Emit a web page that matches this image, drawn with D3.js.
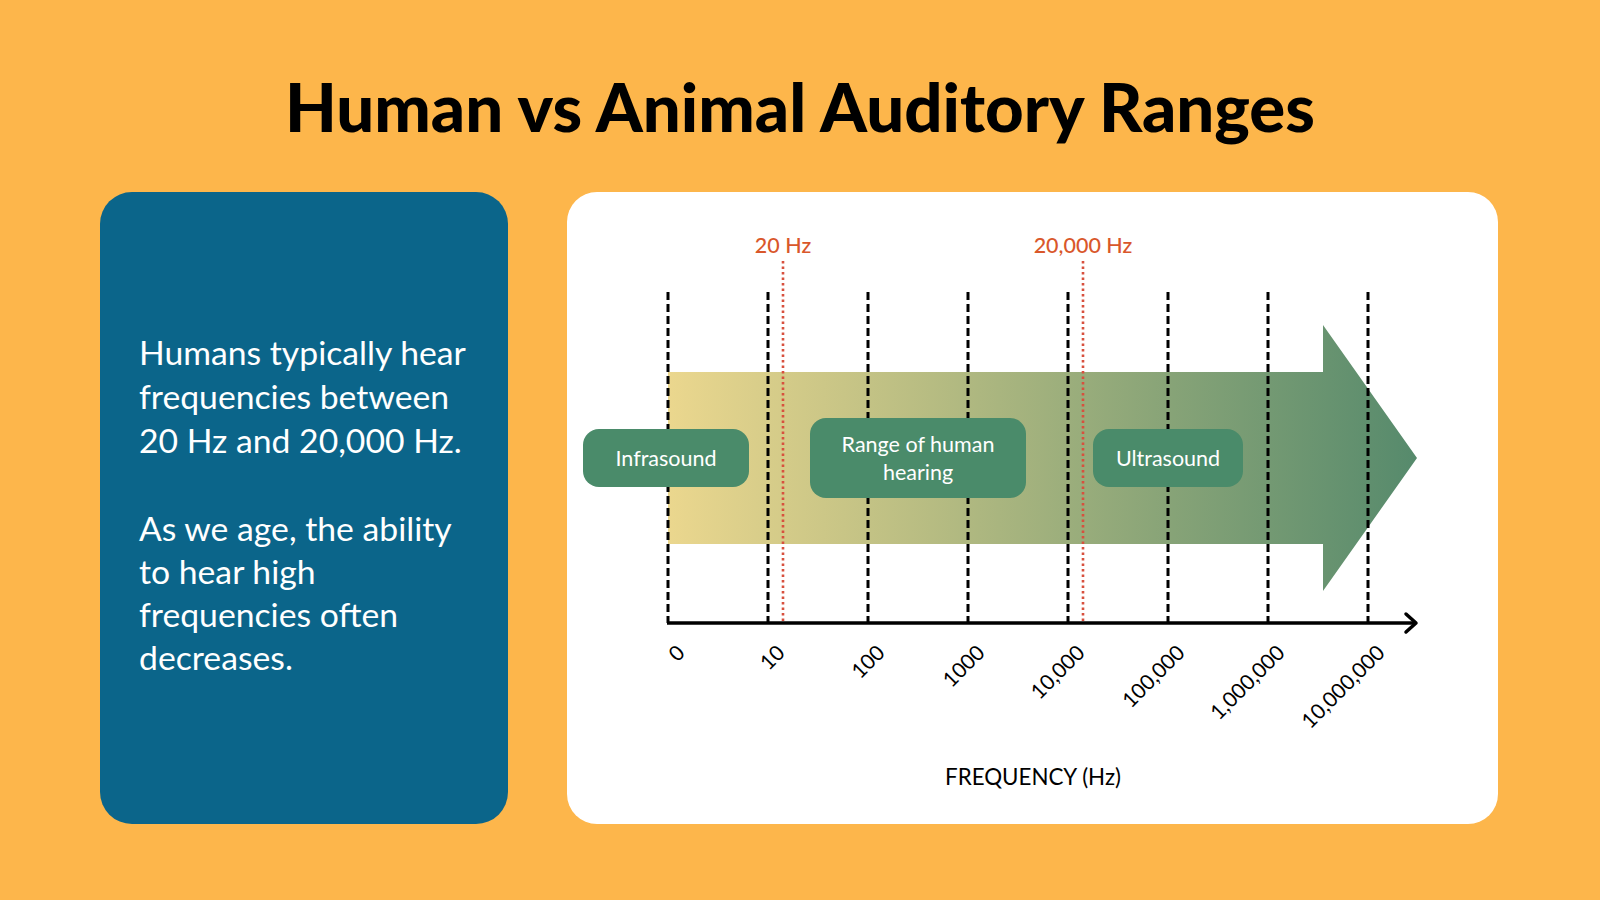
<!DOCTYPE html>
<html>
<head>
<meta charset="utf-8">
<script src="https://cdn.jsdelivr.net/npm/d3@7"></script>
<style>
  html, body { margin: 0; padding: 0; background: #FDB64B; }
  svg { display: block; }
</style>
</head>
<body>
<svg id="chart" width="1600" height="900"></svg>
<script>
// ---------- DATA ----------
const titleText = "Human vs Animal Auditory Ranges";
const paragraph1 = ["Humans typically hear", "frequencies between", "20 Hz and 20,000 Hz."];
const paragraph2 = ["As we age, the ability", "to hear high", "frequencies often", "decreases."];

// decade index of each tick (0 .. 7) and its label
const tickDecades = [0, 1, 2, 3, 4, 5, 6, 7];
const tickLabels = ["0", "10", "100", "1000", "10,000", "100,000", "1,000,000", "10,000,000"];

// red reference markers (position, in decade units)
const markerLabels = ["20 Hz", "20,000 Hz"];
const markerDecades = [1.15, 4.15];

// region labels and their centre (decade units)
const regionLabels = [["Infrasound"], ["Range of human", "hearing"], ["Ultrasound"]];
const regionCenters = [-0.02, 2.5, 5.0];

const axisTitle = "FREQUENCY (Hz)";

// ---------- STYLE / LAYOUT ----------
const W = 1600, H = 900;
const C = {
  bg: "#FDB64B", blue: "#0B658A", white: "#FFFFFF",
  box: "#4A8B6A", red: "#D9572B", redLine: "#D8503E",
  gradL: "#EBD78E", gradR: "#568A6C"
};
const boxWidths = [166, 216, 150];
const boxHeights = [58, 80, 58];
const FONT = "Lato, 'Open Sans', 'Noto Sans', sans-serif";

const svg = d3.select("#chart");

// defs
const defs = svg.append("defs");
const grad = defs.append("linearGradient").attr("id", "bandGrad")
  .attr("gradientUnits", "userSpaceOnUse")
  .attr("x1", 668).attr("x2", 1417).attr("y1", 0).attr("y2", 0);
grad.append("stop").attr("offset", "0%").attr("stop-color", C.gradL);
grad.append("stop").attr("offset", "100%").attr("stop-color", C.gradR);

// background
svg.append("rect").attr("width", W).attr("height", H).attr("fill", C.bg);

// helper to fit text to a width
function fitText(sel, targetW) {
  const node = sel.node();
  const fs = parseFloat(sel.attr("font-size"));
  const w = node.getComputedTextLength();
  if (w > 0) sel.attr("font-size", (fs * targetW / w).toFixed(2));
  return sel;
}

// title
const title = svg.append("text")
  .attr("x", 800).attr("y", 132)
  .attr("text-anchor", "middle")
  .attr("font-family", FONT).attr("font-weight", 900)
  .attr("font-size", 70).attr("fill", "#000")
  .text(titleText);
fitText(title, 1030);

// left panel
svg.append("rect").attr("x", 100).attr("y", 192).attr("width", 408).attr("height", 632)
  .attr("rx", 32).attr("fill", C.blue);

const bodyG = svg.append("g").attr("font-family", FONT).attr("fill", C.white);
const probe = bodyG.append("text").attr("font-size", 28).text(paragraph1[0]);
fitText(probe, 327);
const bodyFS = probe.attr("font-size");
probe.remove();
const p1Base = [365, 409, 453], p2Base = [541, 584, 627, 670];
paragraph1.forEach((t, i) => bodyG.append("text").attr("x", 139).attr("y", p1Base[i]).attr("font-size", bodyFS).text(t));
paragraph2.forEach((t, i) => bodyG.append("text").attr("x", 139).attr("y", p2Base[i]).attr("font-size", bodyFS).text(t));

// right white panel
svg.append("rect").attr("x", 567).attr("y", 192).attr("width", 931).attr("height", 632)
  .attr("rx", 30).attr("fill", C.white);

// scale
const x = d3.scaleLinear().domain([0, 7]).range([668, 1368]);
const axisY = 623;

// gradient arrow band (shaft from first tick; head extends beyond last tick)
const bandTop = 372, bandBot = 544, headTop = 325, headBot = 591;
const shaftEnd = x(6.55), tipX = x(7.49);
const midY = (bandTop + bandBot) / 2;
svg.append("path")
  .attr("d", `M${x(0)},${bandTop} L${shaftEnd},${bandTop} L${shaftEnd},${headTop} L${tipX},${midY} L${shaftEnd},${headBot} L${shaftEnd},${bandBot} L${x(0)},${bandBot} Z`)
  .attr("fill", "url(#bandGrad)");

// dashed gridlines
svg.append("g").selectAll("line").data(tickDecades).join("line")
  .attr("x1", d => x(d)).attr("x2", d => x(d))
  .attr("y1", 292).attr("y2", axisY)
  .attr("stroke", "#000").attr("stroke-width", 3)
  .attr("stroke-dasharray", "8,4");

// red dotted markers
const mg = svg.append("g");
mg.selectAll("line").data(markerDecades).join("line")
  .attr("x1", d => x(d)).attr("x2", d => x(d))
  .attr("y1", 261).attr("y2", axisY)
  .attr("stroke", C.redLine).attr("stroke-width", 2.6)
  .attr("stroke-dasharray", "2.5,3");
mg.selectAll("text").data(markerLabels).join("text")
  .attr("x", (d, i) => x(markerDecades[i])).attr("y", 253)
  .attr("text-anchor", "middle")
  .attr("font-family", FONT).attr("font-size", 21.5).attr("font-weight", 500)
  .attr("fill", C.red)
  .text(d => d);

// axis line + arrow
svg.append("line").attr("x1", x(0) - 1).attr("x2", 1415).attr("y1", axisY).attr("y2", axisY)
  .attr("stroke", "#000").attr("stroke-width", 3.5);
svg.append("path").attr("d", `M1406,${axisY - 9} L1416,${axisY} L1406,${axisY + 9}`)
  .attr("fill", "none").attr("stroke", "#000").attr("stroke-width", 3.5)
  .attr("stroke-linecap", "round").attr("stroke-linejoin", "round");

// tick labels (rotated)
svg.append("g").selectAll("text").data(tickDecades).join("text")
  .attr("transform", d => `translate(${x(d) + 12},${648}) rotate(-45)`)
  .attr("text-anchor", "end").attr("dominant-baseline", "central")
  .attr("font-family", FONT).attr("font-size", 21).attr("fill", "#000")
  .text((d, i) => tickLabels[i]);

// axis title
const at = svg.append("text").attr("x", 1033).attr("y", 785).attr("text-anchor", "middle")
  .attr("font-family", FONT).attr("font-size", 22).attr("fill", "#000").text(axisTitle);
fitText(at, 176);

// region boxes
const rg = svg.append("g").selectAll("g").data(regionLabels).join("g")
  .attr("transform", (d, i) => `translate(${x(regionCenters[i])},${458})`);
rg.append("rect")
  .attr("x", (d, i) => -boxWidths[i] / 2).attr("y", (d, i) => -boxHeights[i] / 2)
  .attr("width", (d, i) => boxWidths[i]).attr("height", (d, i) => boxHeights[i])
  .attr("rx", 16).attr("fill", C.box);
rg.each(function (lines) {
  const g = d3.select(this);
  const lh = 28;
  const y0 = -(lines.length - 1) * lh / 2;
  lines.forEach((t, j) => {
    g.append("text").attr("x", 0).attr("y", y0 + j * lh)
      .attr("text-anchor", "middle").attr("dominant-baseline", "central")
      .attr("font-family", FONT).attr("font-size", 21.5).attr("fill", C.white)
      .text(t);
  });
});
</script>
</body>
</html>
